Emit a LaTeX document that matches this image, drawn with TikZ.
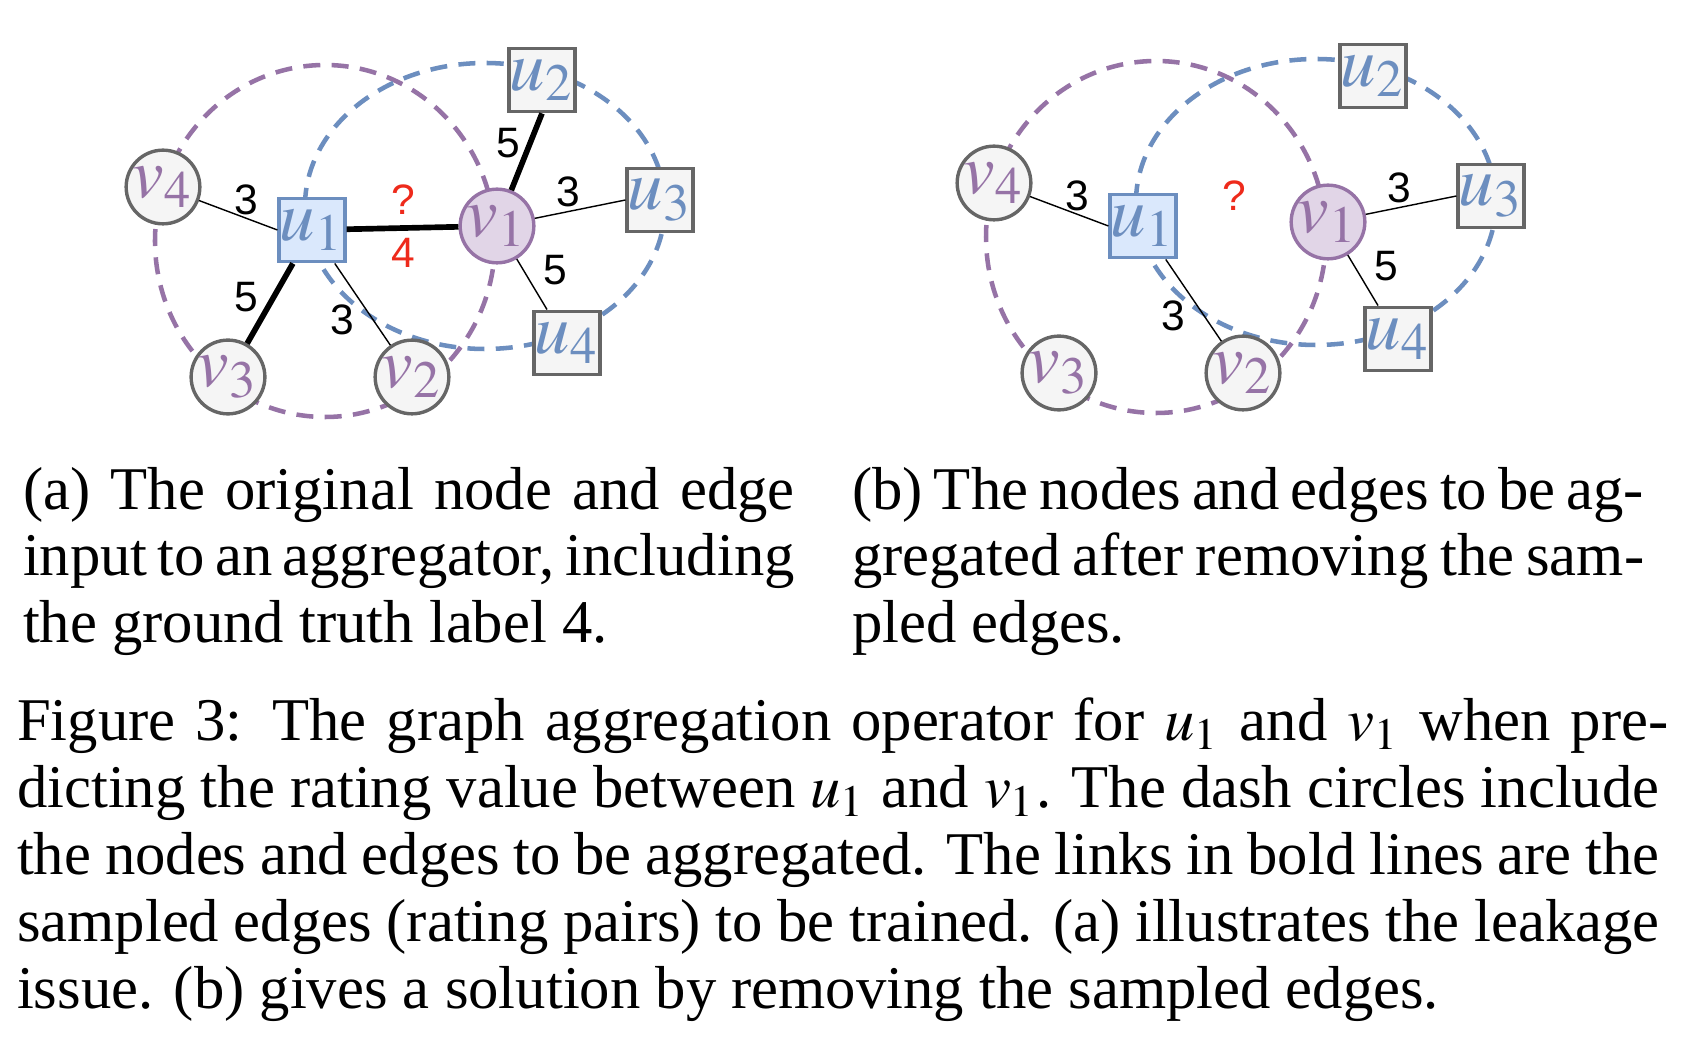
\documentclass[tikz,border=0pt]{standalone}
\usepackage{mathptmx}
\usepackage{fontspec}
\setmainfont{Liberation Serif}
\newfontfamily\ratefont{Liberation Sans}
\usepackage{tikz}
\usetikzlibrary{shapes}
\definecolor{ublue}{HTML}{6C8EBF}
\definecolor{ufill}{HTML}{DAE8FC}
\definecolor{vpurple}{HTML}{9673A6}
\definecolor{vfill}{HTML}{E1D5E7}
\definecolor{ngray}{HTML}{666666}
\definecolor{nfill}{HTML}{F5F5F5}
\definecolor{qred}{HTML}{EE2A1B}
\newcommand{\capfont}{\fontsize{10.7}{12}\selectfont
  \spaceskip=0.25em plus 0.25em minus 0.14em\relax}
\newcommand{\hy}{-\kern-1.6pt}% hanging hyphen
\tikzset{
  gnode/.style = {inner sep=0pt, text centered, line width=0.6pt,
    font=\fontsize{12.5}{13}\selectfont},
  g_u/.style = {gnode, rectangle, draw=ngray, fill=nfill, text=ublue,
    minimum width=11.6pt, minimum height=11.2pt},% user node
  g_ub/.style = {g_u, draw=ublue, fill=ufill},% target user
  g_v/.style = {gnode, circle, draw=ngray, fill=nfill, text=vpurple,
    minimum size=13pt},% item node
  g_vp/.style = {g_v, draw=vpurple, fill=vfill},% target item
  rate/.style = {inner sep=0pt, font=\ratefont\fontsize{7.5}{8}\selectfont},
  rate_q/.style = {rate, text=qred},
  rating/.style = {draw=black, line width=0.25pt},
  sampled/.style = {draw=black, line width=1pt},
  hood_u/.style = {draw=ublue, line width=0.8pt, dash pattern=on 3pt off 2pt},
  hood_v/.style = {draw=vpurple, line width=0.8pt, dash pattern=on 3pt off 2pt},
  capline/.style = {anchor=base west, inner sep=0pt, font=\capfont},
}

\begin{document}
\begin{tikzpicture}[x=0.17639pt, y=-0.17639pt]
  \useasboundingbox (0,0) rectangle (1694,1040);

  %   (a) original input
  \draw[hood_v] (325,241) ellipse [x radius=170, y radius=176];
  \draw[hood_u] (485,206) ellipse [x radius=180, y radius=143];

  \node[g_v] (v4a) at (163,187) {$v_4$};
  \node[g_ub] (u1a) at (312,230) {$u_1$};
  \node[g_vp] (v1a) at (497,226) {$v_1$};
  \node[g_u] (u2a) at (542,80) {$u_2$};
  \node[g_u] (u3a) at (660,200) {$u_3$};
  \node[g_u] (u4a) at (567,343) {$u_4$};
  \node[g_v] (v3a) at (228,377) {$v_3$};
  \node[g_v] (v2a) at (412,377) {$v_2$};

  \path[rating] (v4a) edge (u1a.west);
  \path[rating] (u1a) edge (v2a);
  \path[rating] (v1a) edge (u3a.west);
  \path[rating] (v1a) edge (u4a);
  \path[sampled] (u1a) edge (v1a);
  \path[sampled] (u1a) edge (v3a);
  \path[sampled] (v1a) edge (u2a.south);

  \node[rate] (r41a) at (246,200) {3};
  \node[rate] (r13a) at (246,297) {5};
  \node[rate] (r12a) at (342,320) {3};
  \node[rate_q] (qa) at (403,200) {?};
  \node[rate_q] (ta) at (403,253) {4};
  \node[rate] (r21a) at (508,143) {5};
  \node[rate] (r31a) at (568,192) {3};
  \node[rate] (r43a) at (555,270) {5};

  %   (b) sampled edges removed
  \begin{scope}[shift={(831,-4)}]
  \draw[hood_v] (325,241) ellipse [x radius=170, y radius=176];
  \draw[hood_u] (485,206) ellipse [x radius=180, y radius=143];

  \node[g_v] (v4b) at (163,187) {$v_4$};
  \node[g_ub] (u1b) at (312,230) {$u_1$};
  \node[g_vp] (v1b) at (497,226) {$v_1$};
  \node[g_u] (u2b) at (542,80) {$u_2$};
  \node[g_u] (u3b) at (660,200) {$u_3$};
  \node[g_u] (u4b) at (567,343) {$u_4$};
  \node[g_v] (v3b) at (228,377) {$v_3$};
  \node[g_v] (v2b) at (412,377) {$v_2$};

  \path[rating] (v4b) edge (u1b.west);
  \path[rating] (u1b) edge (v2b);
  \path[rating] (v1b) edge (u3b.west);
  \path[rating] (v1b) edge (u4b);

  \node[rate] (r41b) at (246,200) {3};
  \node[rate] (r12b) at (342,320) {3};
  \node[rate_q] (qb) at (403,200) {?};
  \node[rate] (r31b) at (568,192) {3};
  \node[rate] (r43b) at (555,270) {5};
  \end{scope}

  %   captions
  \node[capline] (capa1) at (22,510) {\makebox[136.1pt][s]{(a) The original node and edge}};
  \node[capline] (capa2) at (22,576) {\makebox[136.1pt][s]{input to an aggregator, including}};
  \node[capline] (capa3) at (22,642) {the ground truth label 4.};
  \node[capline] (capb1) at (851,510) {\makebox[138.1pt][s]{(b) The nodes and edges to be ag\hy}};
  \node[capline] (capb2) at (851,576) {\makebox[138.1pt][s]{gregated after removing the sam\hy}};
  \node[capline] (capb3) at (851,642) {pled edges.};

  \node[capline] (fig1) at (16,740) {\makebox[289.7pt][s]{Figure 3: The graph aggregation operator for $u_1$ and $v_1$ when pre\hy}};
  \node[capline] (fig2) at (16,807) {\makebox[289.7pt][s]{dicting the rating value between $u_1$ and $v_1$. The dash circles include}};
  \node[capline] (fig3) at (16,874) {\makebox[289.7pt][s]{the nodes and edges to be aggregated. The links in bold lines are the}};
  \node[capline] (fig4) at (16,941) {\makebox[289.7pt][s]{sampled edges (rating pairs) to be trained. (a) illustrates the leakage}};
  \node[capline] (fig5) at (16,1008) {issue. (b) gives a solution by removing the sampled edges.};
\end{tikzpicture}
\end{document}
